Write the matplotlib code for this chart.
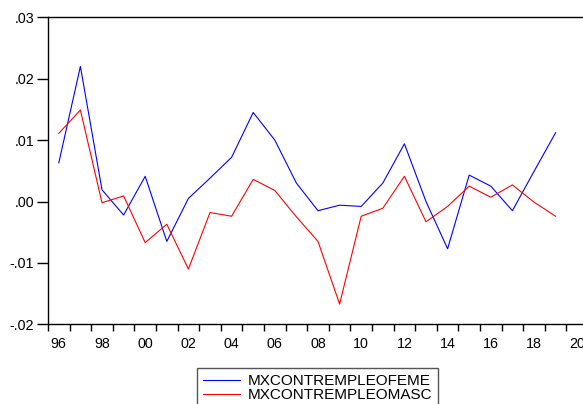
import matplotlib
matplotlib.use("Agg")
import matplotlib.pyplot as plt
import numpy as np

years = np.arange(1996, 2020)
feme = [0.0063, 0.0220, 0.0019, -0.0022, 0.0041, -0.0065, 0.0005, 0.0038,
        0.0072, 0.0145, 0.0100, 0.0030, -0.0015, -0.0006, -0.0008, 0.0030,
        0.0094, 0.0000, -0.0077, 0.0043, 0.0025, -0.0015, 0.0049, 0.0112]
masc = [0.0111, 0.0149, -0.0002, 0.0009, -0.0067, -0.0037, -0.0110, -0.0018,
        -0.0024, 0.0036, 0.0018, -0.0025, -0.0065, -0.0167, -0.0024, -0.0011,
        0.0041, -0.0033, -0.0008, 0.0025, 0.0007, 0.0027, -0.0001, -0.0024]
yticks = [-0.02, -0.01, 0.00, 0.01, 0.02, 0.03]
ytick_labels = ["-.02", "-.01", ".00", ".01", ".02", ".03"]
xtick_years = list(range(1996, 2021, 2))

plt.rcParams['font.family'] = ['Liberation Sans', 'DejaVu Sans']
plt.rcParams['font.size'] = 10.3

fig = plt.figure(figsize=(5.83, 4.04), dpi=100)
ax = fig.add_axes([48/583, 1-324.3/404, 540/583, 307/404])

l1, = ax.plot(years, feme, color="#0000ff", lw=0.8, label="MXCONTREMPLEOFEME")
l2, = ax.plot(years, masc, color="#ff0000", lw=0.8, label="MXCONTREMPLEOMASC")

ax.set_xlim(1995.5, 2020.5)
ax.set_ylim(-0.02, 0.03)
ax.set_yticks(yticks)
ax.set_yticklabels(ytick_labels)
ax.set_xticks(xtick_years)
ax.set_xticklabels(["%02d" % (y % 100) for y in xtick_years])
ax.set_xticks(np.arange(1995.5, 2021, 1), minor=True)
ax.tick_params(axis='x', which='major', length=0, pad=9)
ax.tick_params(axis='x', which='minor', length=5, width=1, direction='out')
ax.tick_params(axis='y', length=8, width=1, direction='out', pad=2)
for s in ax.spines.values():
    s.set_linewidth(1)

fig.legend(handles=[l1, l2], loc='upper left', bbox_to_anchor=(197/583, 1-368/404),
           frameon=True, fancybox=False, edgecolor='#555555', framealpha=1,
           handlelength=2.4, handletextpad=0.5, borderpad=0.4, labelspacing=0.0,
           borderaxespad=0, fontsize=11)

fig.savefig("out.png", dpi=100)
